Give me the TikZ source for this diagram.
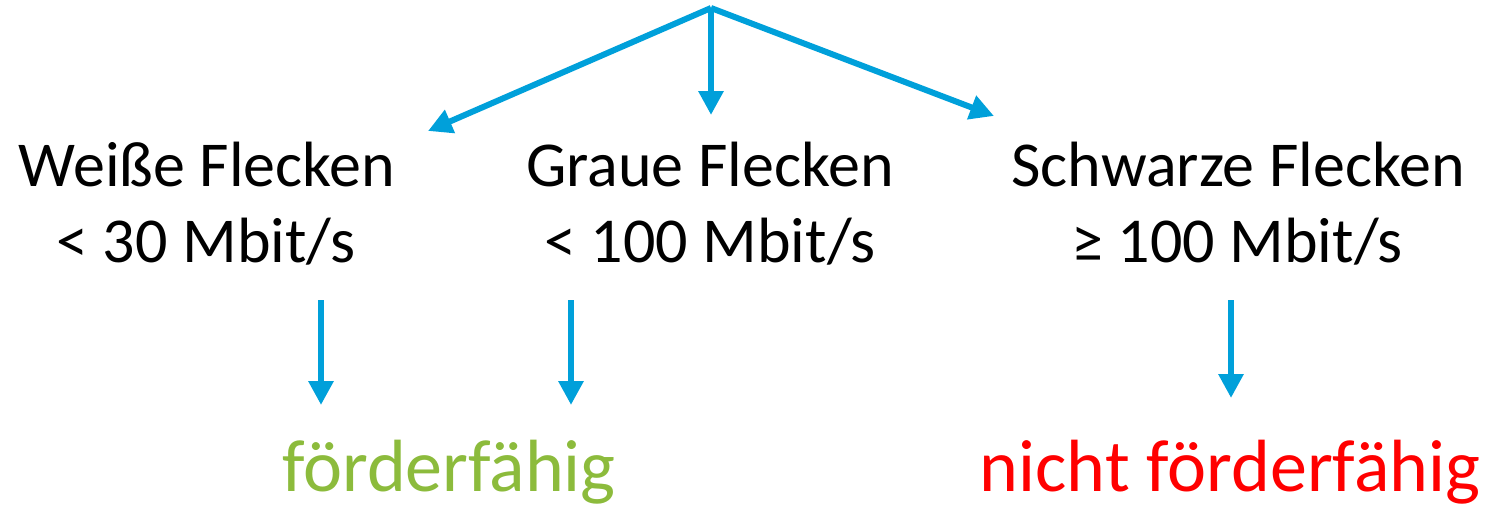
\documentclass[tikz,border=0pt]{standalone}
\usepackage{fontspec}
\setmainfont{Carlito}
\usetikzlibrary{arrows.meta}
\definecolor{arrowblue}{RGB}{0,160,218}
\definecolor{okgreen}{RGB}{140,187,60}
\definecolor{nored}{RGB}{255,0,0}
\tikzset{
  conn/.style={draw=arrowblue, line width=6pt, -{Triangle[width=24pt,length=24pt]}},
  lbl/.style={inner sep=0pt, anchor=base, font=\fontsize{64}{76}\selectfont},
  res/.style={inner sep=0pt, anchor=base, font=\fontsize{74}{80}\selectfont}
}
\begin{document}
\begin{tikzpicture}[x=1pt,y=-1pt]
\useasboundingbox (0,0) rectangle (1489,506);
% labels
\node[lbl] (w1) at (207,186) {Weiße Flecken};
\node[lbl] (w2) at (206,262) {< 30 Mbit/s};
\node[lbl] (g1) at (710,186) {Graue Flecken};
\node[lbl] (g2) at (710,262) {< 100 Mbit/s};
\node[lbl] (s1) at (1238,186) {Schwarze Flecken};
\node[lbl] (s2) at (1237,262) {≥ 100 Mbit/s};
\node[res, text=okgreen] (f) at (449,491) {förderfähig};
\node[res, text=nored] (nf) at (1230,491) {nicht förderfähig};
% connector points
\coordinate (root) at (711,8);
\coordinate (tw) at (428,131);
\coordinate (tg) at (711,115);
\coordinate (ts) at (994,116);
\coordinate (wa) at (321,300);
\coordinate (wb) at (321,405);
\coordinate (ga) at (571,300);
\coordinate (gb) at (571,405);
\coordinate (sa) at (1231,300);
\coordinate (sb) at (1231,398);
\draw[conn] (root) -- (tw);
\draw[conn] (root) -- (tg);
\draw[conn] (root) -- (ts);
\draw[conn] (wa) -- (wb);
\draw[conn] (ga) -- (gb);
\draw[conn] (sa) -- (sb);
\end{tikzpicture}
\end{document}
